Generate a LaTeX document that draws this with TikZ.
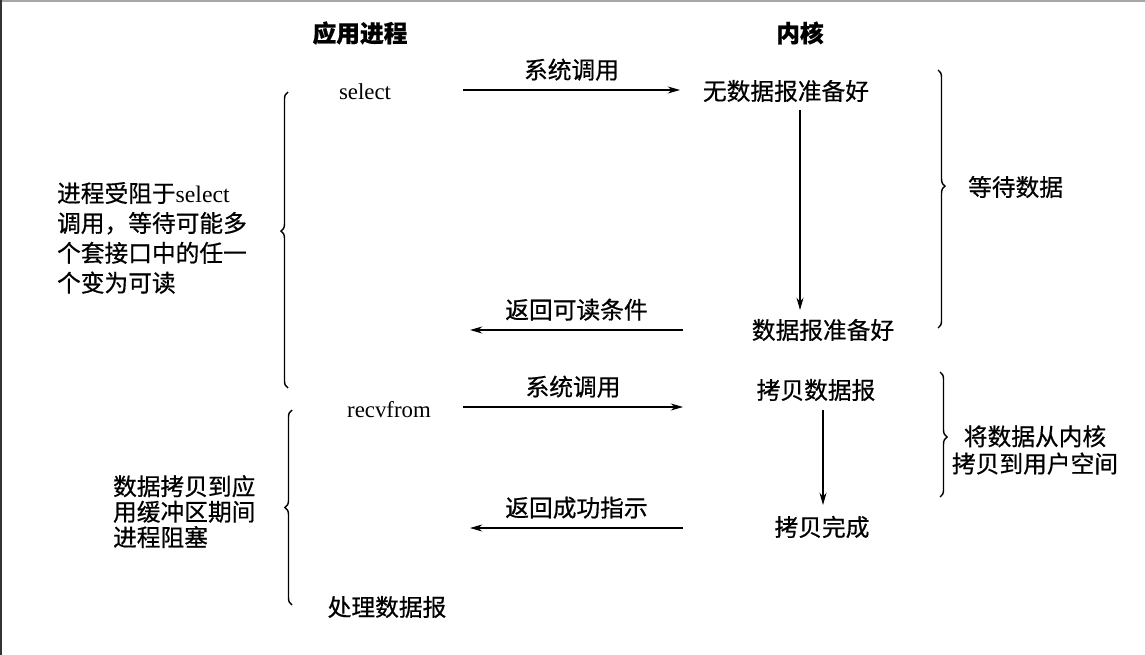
\documentclass[tikz,border=0pt]{standalone}
\usepackage{fontspec}
\setmainfont{Liberation Serif}
\newfontfamily\cjk[FakeBold=0.6]{Noto Sans CJK SC}
\usetikzlibrary{arrows.meta, decorations.pathreplacing}

\begin{document}
\begin{tikzpicture}[x=0.02cm, y=-0.02cm,
        txt/.style={font=\cjk\fontsize{13.5}{16}\selectfont, inner sep=1pt},
        hdr/.style={font=\cjk\bfseries\fontsize{13.5}{16}\selectfont, inner sep=1pt},
        call/.style={font=\fontsize{13}{16}\selectfont, inner sep=1pt},
        arr/.style={-{Stealth[length=7pt, width=4pt]}, line width=0.6pt},
        brc/.style={decorate, line width=0.8pt}]
        \useasboundingbox (0,0) rectangle (1145,655);
        % Frame edges of the scan
        \draw[gray!70, line width=0.8pt] (0,1) -- (1145,1);
        \draw[black!80, line width=1pt] (1,0) -- (1,655);

        % Draw nodes
        \node[hdr] (app) at (360,33) {应用进程};
        \node[hdr] (kern) at (800,33) {内核};
        \node[call] (sel) at (365,92) {select};
        \node[call] (recv) at (389,410) {recvfrom};
        \node[txt] (proc) at (387,607) {处理数据报};
        \node[txt] (nodata) at (786,91) {无数据报准备好};
        \node[txt] (ready) at (823,330) {数据报准备好};
        \node[txt] (copy) at (816,390) {拷贝数据报};
        \node[txt] (done) at (822,527) {拷贝完成};

        % Labels
        \node[txt, anchor=north west, align=left, font=\cjk\fontsize{13.5}{17}\selectfont] (blk1) at (55,180)
            {进程受阻于{\rmfamily select}\\调用，等待可能多\\个套接口中的任一\\个变为可读};
        \node[txt, anchor=north west, align=left, font=\cjk\fontsize{13.5}{14.5}\selectfont] (blk2) at (111,473)
            {数据拷贝到应\\用缓冲区期间\\进程阻塞};
        \node[txt, anchor=west] (wait) at (966,187) {等待数据};
        \node[txt, align=center, font=\cjk\fontsize{13.5}{15.5}\selectfont] (move) at (1035,450)
            {将数据从内核\\拷贝到用户空间};

        % Arrow ends
        \coordinate (c1s) at (463,90);  \coordinate (c1e) at (680,90);
        \coordinate (r1s) at (683,330); \coordinate (r1e) at (470,330);
        \coordinate (c2s) at (463,407); \coordinate (c2e) at (683,407);
        \coordinate (r2s) at (683,528); \coordinate (r2e) at (470,528);
        \coordinate (w1s) at (800,110); \coordinate (w1e) at (800,310);
        \coordinate (w2s) at (823,410); \coordinate (w2e) at (823,505);

        % Draw connections
        \draw[arr] (c1s) -- (c1e) node[midway, above=4pt, txt] (c1l) {系统调用};
        \draw[arr] (r1s) -- (r1e) node[midway, above=4pt, txt] (r1l) {返回可读条件};
        \draw[arr] (c2s) -- (c2e) node[midway, above=4pt, txt] (c2l) {系统调用};
        \draw[arr] (r2s) -- (r2e) node[midway, above=4pt, txt] (r2l) {返回成功指示};
        \draw[arr] (w1s) -- (w1e);
        \draw[arr] (w2s) -- (w2e);

        % Braces
        \draw[brc, decoration={brace, amplitude=4pt, aspect=0.53}] (288,388) -- (288,92);
        \draw[brc, decoration={brace, amplitude=4pt, aspect=0.5}] (292,605) -- (292,410);
        \draw[brc, decoration={brace, amplitude=4pt, aspect=0.45}] (938,70) -- (938,328);
        \draw[brc, decoration={brace, amplitude=4pt, aspect=0.52}] (940,372) -- (940,497);
    \end{tikzpicture}
\end{document}
